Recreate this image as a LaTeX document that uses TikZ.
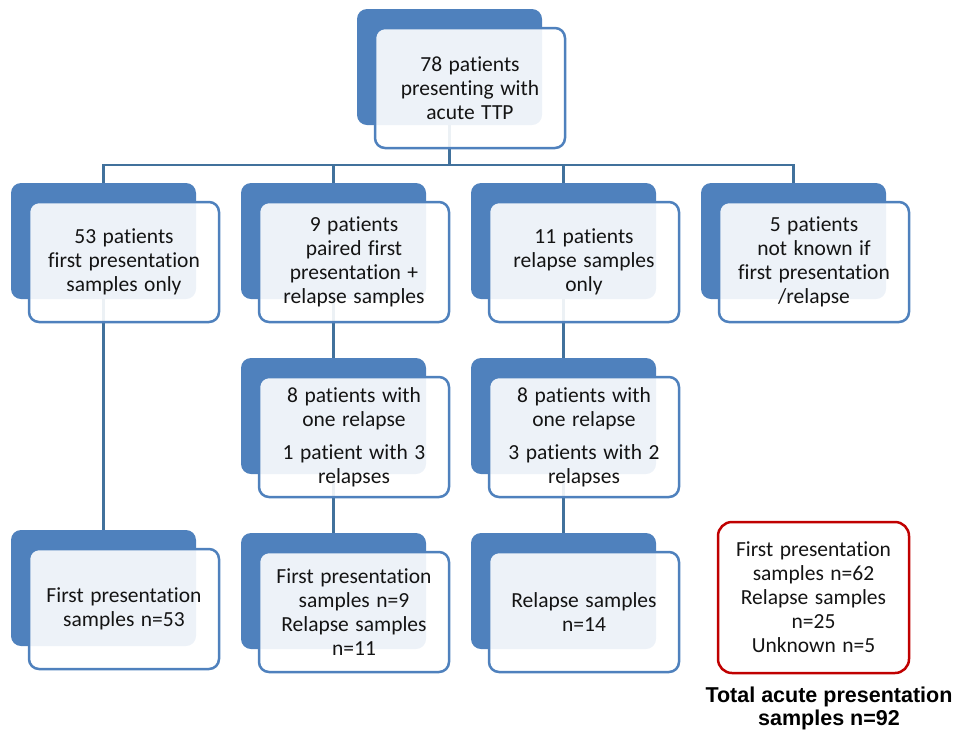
\documentclass[tikz,border=0pt]{standalone}
\usepackage{fontspec}
\setmainfont{Carlito}[Ligatures=CommonOff]
\newfontfamily\arialfont{Liberation Sans}
\usetikzlibrary{backgrounds}
\definecolor{backblue}{HTML}{4F81BD}
\definecolor{edgeblue}{HTML}{4F81BD}
\definecolor{linkblue}{HTML}{41719C}
\definecolor{redframe}{HTML}{C00000}
\definecolor{txt}{HTML}{141414}
\newcommand\boxfont{\fontsize{21.5}{24}\selectfont\spaceskip=6.5pt plus 1pt\relax}
\tikzset{
  backbox/.style={fill=backblue, rounded corners=10pt, minimum width=185pt, minimum height=116pt, inner sep=0pt},
  frontbox/.style={draw=edgeblue, line width=2.5pt, fill=white, fill opacity=0.9, draw opacity=1, text opacity=1,
    rounded corners=10pt, minimum width=190pt, minimum height=120pt, inner sep=0pt, align=center, text=txt,
    font=\boxfont},
  redbox/.style={draw=redframe, line width=2.5pt, fill=white, rounded corners=14pt, minimum width=191pt,
    minimum height=151pt, inner sep=0pt, align=center, text=txt, font=\boxfont},
  totaltext/.style={align=center, text=black, inner sep=0pt, font=\arialfont\bfseries\fontsize{21.5}{23}\selectfont},
  link/.style={draw=linkblue, line width=2.5pt},
}
\newcommand\tbox[4]{%
  \node[backbox] (#1b) at ({#2+74.5},{#3+39}) {};
  \node[frontbox] (#1) at ({#2+95},{#3+60}) {#4};}
\begin{document}
\begin{tikzpicture}[x=1pt, y=-1pt]
\useasboundingbox (0,0) rectangle (957,729);
\tbox{top}{375}{28}{78 patients\\presenting with\\acute TTP}
\tbox{rtwoa}{29}{202}{53 patients\\first presentation\\samples only}
\tbox{rtwob}{259}{202}{9 patients\\paired first\\presentation +\\relapse samples}
\tbox{rtwoc}{489}{202}{11 patients\\relapse samples\\only}
\tbox{rtwod}{719}{202}{5 patients\\not known if\\first presentation\\/relapse}
\tbox{rthreeb}{259}{377}{8 patients with\\one relapse\\[9pt]1 patient with 3\\relapses}
\tbox{rthreec}{489}{377}{8 patients with\\one relapse\\[9pt]3 patients with 2\\relapses}
\tbox{rfoura}{29}{549}{First presentation\\samples n=53}
\tbox{rfourb}{259}{552}{First presentation\\samples n=9\\Relapse samples\\n=11}
\tbox{rfourc}{489}{552}{Relapse samples\\n=14}
\node[redbox] (summary) at (813.5,597.5) {First presentation\\samples n=62\\Relapse samples\\n=25\\Unknown n=5};
\node[totaltext] (total) at (829,708) {Total acute presentation\\samples n=92};
\begin{scope}[on background layer]
  \coordinate (bus) at (topb.south |- 0,165);
  \draw[link] (topb.south) -- (bus);
  \draw[link] (bus) -| (rtwoab.north);
  \draw[link] (bus) -| (rtwobb.north);
  \draw[link] (bus) -| (rtwocb.north);
  \draw[link] (bus) -| (rtwodb.north);
  \draw[link] (rtwoab.south) -- (rfourab.north);
  \draw[link] (rtwobb.south) -- (rthreebb.north);
  \draw[link] (rthreebb.south) -- (rfourbb.north);
  \draw[link] (rtwocb.south) -- (rthreecb.north);
  \draw[link] (rthreecb.south) -- (rfourcb.north);
\end{scope}
\end{tikzpicture}
\end{document}
